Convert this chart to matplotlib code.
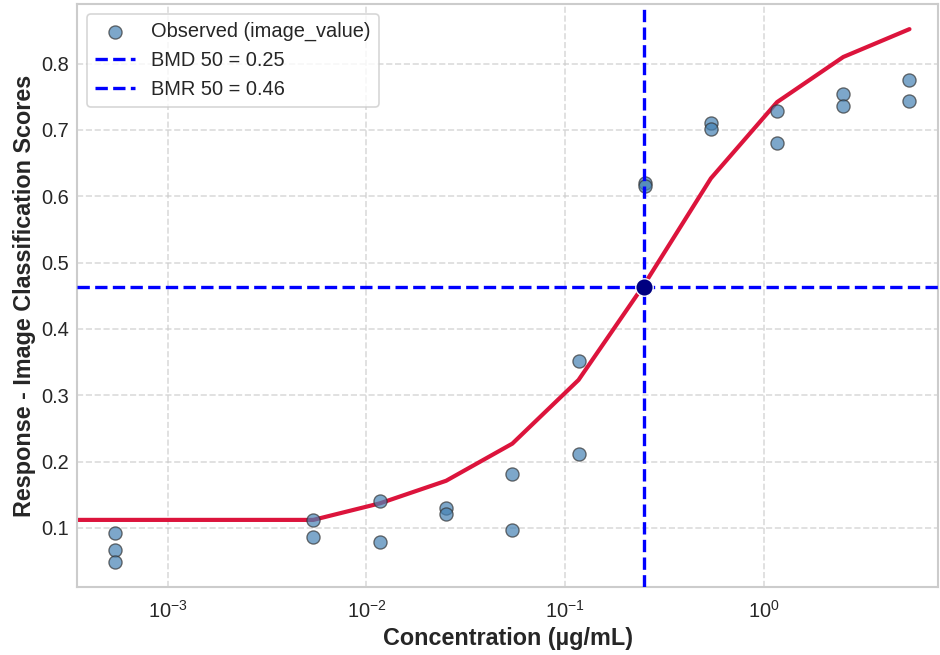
import numpy as np
import matplotlib
matplotlib.use("Agg")
import matplotlib.pyplot as plt
import seaborn as sns

# observed doses (ug/mL) and responses, two or three replicates each
obs_conc = [0.00054, 0.00054, 0.00054,
            0.0054, 0.0054,
            0.0117, 0.0117,
            0.0252, 0.0252,
            0.0543, 0.0543,
            0.117, 0.117,
            0.252, 0.252,
            0.543, 0.543,
            1.17, 1.17,
            2.52, 2.52,
            5.43, 5.43]
obs_resp = [0.092, 0.066, 0.049,
            0.112, 0.086,
            0.141, 0.079,
            0.130, 0.121,
            0.181, 0.097,
            0.352, 0.211,
            0.620, 0.615,
            0.710, 0.701,
            0.728, 0.680,
            0.754, 0.736,
            0.776, 0.743]

# fitted curve
fit_conc = [0.0001, 0.00054, 0.0054, 0.0117, 0.0252, 0.0543, 0.117, 0.252, 0.543, 1.17, 2.52, 5.43]
fit_resp = [0.112, 0.112, 0.112, 0.137, 0.171, 0.227, 0.323, 0.468, 0.627, 0.742, 0.810, 0.852]

bmd = 0.25
bmr = 0.4635

sns.set_theme(style="whitegrid")
plt.rcParams['font.family'] = ['Liberation Sans', 'DejaVu Sans']
plt.rcParams['grid.linestyle'] = '--'

fig, ax = plt.subplots(figsize=(940 / 120, 655 / 120), dpi=120)
fig.subplots_adjust(left=0.082, right=0.998, top=0.994, bottom=0.104)

ax.scatter(obs_conc, obs_resp, s=62, color='steelblue', alpha=0.7,
           edgecolor='#333333', linewidth=0.8, label='Observed (image_value)', zorder=3)
ax.plot(fit_conc, fit_resp, color='crimson', lw=2.5, zorder=2)
ax.axvline(bmd, color='blue', ls='--', lw=2, label='BMD 50 = %.2f' % bmd, zorder=4)
ax.axhline(bmr, color='blue', ls='--', lw=2, label='BMR 50 = %.2f' % bmr, zorder=4)
ax.scatter([bmd], [bmr], s=110, color='navy', edgecolor='white', linewidth=0.8, zorder=5)

ax.set_xscale('log')
ax.set_xlim(3.49e-4, 7.57)
ax.set_ylim(0.011, 0.89)
ax.grid(True, which='major', ls='--', alpha=0.7)
ax.grid(False, which='minor')
ax.tick_params(axis='x', labelsize=12, length=0, pad=8)
ax.tick_params(axis='y', labelsize=12, length=0, pad=5)

ax.set_xlabel('Concentration (µg/mL)', fontsize=14, fontweight='bold', labelpad=3)
ax.set_ylabel('Response - Image Classification Scores', fontsize=14, fontweight='bold', labelpad=3)
ax.legend(loc='upper left', fontsize=12, frameon=True)

plt.savefig('out.png', dpi=120)
